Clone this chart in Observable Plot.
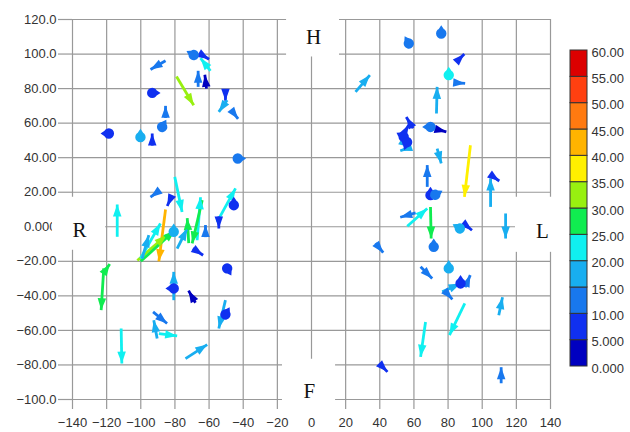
<!DOCTYPE html>
<html><head><meta charset="utf-8">
<script src="https://cdn.jsdelivr.net/npm/d3@7"></script>
<script src="https://cdn.jsdelivr.net/npm/@observablehq/plot@0.6"></script>
<style>
body{margin:0;background:#fff;}
#wrap{position:relative;width:630px;height:432px;overflow:hidden;}
#legend{position:absolute;left:560px;top:40px;}
</style></head><body><div id="wrap"><div id="main"></div><div id="legend"></div></div>
<script>
// ---- axis ticks ----
const xTicks = [-140,-120,-100,-80,-60,-40,-20,0,20,40,60,80,100,120,140];
const yTicks = [-100,-80,-60,-40,-20,0,20,40,60,80,100,120];
// ---- colour bar ----
const legendBreaks = [0,5,10,15,20,25,30,35,40,45,50,55,60];
const binColors = ["#0000c0","#1030f0","#1878ee","#18aef0","#10f0f0","#10ec50","#98f010","#fff000","#ffb400","#ff7a10","#ff4010","#dc0000"];
// ---- arrows: tail (x0,y0) -> head (x1,y1), speed ----
const arrowX0 = [-85.5,-59.2,-66.4,-79.1,-50.4,-49.4,-89.6,-113.8,-80.1,-85.5,-71.9,-67,-64,-102,-100,-100.2,-99.2,-78.7,-55.3,-121.7,-120.5,-80.7,-50.4,-92.8,-90.4,-89.4,-111.5,-73.8,-85.5,-46.5,-93.3,-61.5,-65,-82,-62.1,-69.5,-54.3,-68,
  25.8,73.2,73.6,67.8,93.1,104.9,69.7,56.1,113.7,63.9,76.6,109.7,89.8,66.8,111.1,85,84,59.5,61,105,89,37.5,90,78,40,73,53,58,55];
const arrowY0 = [96.1,90.3,81,87,79,73.3,20.6,-5.8,28.9,10,-9.5,-7.8,15.4,-19.5,-20,-18.4,-18.4,-12.6,2.8,-24.1,-25,-42.5,-42.5,-49.3,-64.7,-61.8,-58.9,-76.3,63,67,47,80,100,17.5,-6,-12.5,6,-44,
  78.1,65.6,45.3,23.1,47.2,11.5,11.5,0.3,7.7,-23.2,-37.7,-51.2,-44.4,-55.1,-90.6,95.5,83.5,57,8,30,2,-9.5,-35,-37,-79.5,56.5,52,46,48];
const arrowX1 = [-94.3,-65,-66.4,-69,-50.4,-54.3,-94.3,-113.8,-75.8,-89.4,-72.8,-65,-69.9,-85,-80,-88.5,-95.3,-72.8,-44.5,-123.2,-118.2,-80.7,-54.3,-84.6,-92.4,-78.7,-111.1,-61.1,-85.5,-43,-93.3,-62.5,-60,-84.5,-62.1,-63.5,-54.3,-72,
  34.2,73.6,76,67.8,89.6,104.9,70.1,67.8,113.7,70.7,87.3,111.9,80.8,63.9,111.1,89.5,90,55.5,52,110,94,42,93,82.5,44.5,79,57,52,58];
const arrowY1 = [91.1,97.6,90.3,70.4,73,66.5,17.1,12.9,8.6,-20,5,17.1,-9.6,-5,-2,1.9,-4.9,-1,22.2,-48.3,-21.5,-26.1,-58.9,-56,-54.1,-63.2,-79.2,-68.2,70,62.5,54,88,97,12,1,-16.5,-1,-37,
  87.8,81,36.7,35.7,17.3,28,-6.8,10.6,-6.8,-29.9,-32.8,-40.8,-62.7,-75.3,-81.3,100,83,63.5,5.5,26.5,-2,-15,-28,-42,-84,55,59,44,46];
const arrowSpeed = [12,22,13,33,8,17,12,22,22,42,27,22,27,32,28,22,17,17,20,27,27,17,19,12,17,20,22,17,12,12,8,3,8,8,12,8,8,3,
  17,17,17,12,37,17,27,20,17,12,17,17,22,22,12,8,12,8,12,8,8,12,12,12,8,3,8,17,17];
// ---- near-zero vectors drawn as blobs: position, direction (deg clockwise from north), speed ----
const blobX = [-69,-93.3,-87.5,-100.2,-43.2,-118.7,-80.7,-45.5,-49.4,-80.7,-50.4,57,76,80.4,69.7,69.7,72.5,71.6,86.9,80.4,87.3,54,56];
const blobY = [99.4,77.5,57.8,51.9,39.5,54,-2.9,12.5,-24.1,-35.7,-50.8,106.1,111.9,87.8,57.8,18.3,18.5,-11.6,-1,-24.1,-32.8,52,49];
const blobDir = [300,90,30,0,90,270,0,0,150,270,30,330,0,0,270,0,60,0,300,0,0,300,200];
const blobSpeed = [12,8,12,17,12,8,17,8,8,8,8,12,12,22,12,8,12,12,17,17,8,8,8];
// ---- annotations ----
const labelText = ["H","F","R","L"];
const labelX = [1.2,-1.2,-135.9,135.3];
const labelY = [110,-95.5,-2,-2.8];
const boxX1 = [-14.6,-17,-151.7,119.5];
const boxX2 = [16.4,14.1,-120.6,146];
const boxY1 = [98.3,-107.4,-13.6,-14.8];
const boxY2 = [124.3,-76.7,17.1,17.1];

const W = 630, H = 432, mL = 72, mR = 80, mT = 19, mB = 33;
const kx = (W - mL - mR) / 280, ky = (H - mT - mB) / 220;

const arrows = arrowX0.map((x0, i) => {
  const dx = arrowX1[i] - x0, dy = arrowY1[i] - arrowY0[i];
  return {x0, y0: arrowY0[i], x1: arrowX1[i], y1: arrowY1[i], m: arrowSpeed[i],
    a: Math.atan2(dx * kx, dy * ky) * 180 / Math.PI};
});
const blobs = blobX.map((x, i) => ({x, y: blobY[i], a: blobDir[i], m: blobSpeed[i]}));
const labels = labelText.map((t, i) => ({t, x: labelX[i], y: labelY[i]}));
const boxes = boxX1.map((x1, i) => ({x1, x2: boxX2[i], y1: boxY1[i], y2: boxY2[i]}));

const headSymbol = {draw(ctx, size) {
  const r = Math.sqrt(size / Math.PI);
  ctx.moveTo(0, 0); ctx.lineTo(0.85 * r, 2.4 * r); ctx.lineTo(-0.85 * r, 2.4 * r); ctx.closePath();
}};
const blobSymbol = {draw(ctx, size) {
  const r = Math.sqrt(size / Math.PI);
  ctx.moveTo(r, 0); ctx.arc(0, 0, r, 0, 2 * Math.PI);
  ctx.moveTo(0, -1.6 * r); ctx.lineTo(0.8 * r, -0.4 * r); ctx.lineTo(-0.8 * r, -0.4 * r); ctx.closePath();
}};

const colorScale = {type: "threshold", domain: legendBreaks.slice(1, -1), range: binColors};
const fmt = d3.format(".4r");
const font = "Liberation Sans, Arial, sans-serif";

const chart = Plot.plot({
  width: W, height: H, marginLeft: mL, marginRight: mR, marginTop: mT, marginBottom: mB,
  style: {fontFamily: font, fontSize: "13px", color: "#333", background: "white"},
  x: {domain: [-140, 140]},
  y: {domain: [-100, 120]},
  color: colorScale,
  marks: [
    Plot.ruleX(xTicks, {stroke: "#999", strokeWidth: 1.2}),
    Plot.ruleY(yTicks, {stroke: "#999", strokeWidth: 1.2}),
    Plot.axisX(xTicks, {tickSize: 10, tickPadding: 8, stroke: "#999", strokeWidth: 1.2, fill: "#333", fontSize: 13}),
    Plot.axisY(yTicks, {tickSize: 14, tickPadding: 2, tickFormat: fmt, stroke: "#999", strokeWidth: 1.2, fill: "#333", fontSize: 13}),
    Plot.rect(boxes, {x1: "x1", x2: "x2", y1: "y1", y2: "y2", fill: "white"}),
    Plot.text(labels, {x: "x", y: "y", text: "t", fontFamily: "Liberation Serif, Times New Roman, serif", fontSize: 21, fill: "#111"}),
    Plot.link(arrows, {x1: "x0", y1: "y0", x2: "x1", y2: "y1", stroke: "m", strokeWidth: 2.8}),
    Plot.dot(arrows, {x: "x1", y: "y1", rotate: "a", symbol: headSymbol, r: 5, fill: "m", stroke: null}),
    Plot.dot(blobs, {x: "x", y: "y", rotate: "a", symbol: blobSymbol, r: 5.2, fill: "m", stroke: null})
  ]
});
document.getElementById("main").append(chart);

const bins = legendBreaks.slice(0, -1).map((lo, i) => ({lo, hi: legendBreaks[i + 1], c: lo + 2.5}));
const legend = Plot.plot({
  width: 70, height: 340, marginLeft: 10, marginRight: 43, marginTop: 10, marginBottom: 14,
  style: {fontFamily: font, fontSize: "13px", color: "#333", background: "transparent"},
  x: {domain: [0, 1], axis: null},
  y: {domain: [0, 60]},
  color: colorScale,
  marks: [
    Plot.rect(bins, {x1: 0, x2: 1, y1: "lo", y2: "hi", fill: "c", stroke: "#333", strokeWidth: 1, inset: 0}),
    Plot.axisY(legendBreaks, {anchor: "right", tickSize: 0, tickPadding: 4, tickFormat: fmt, fill: "#333", fontSize: 13, dy: 2})
  ]
});
document.getElementById("legend").append(legend);
</script></body></html>
